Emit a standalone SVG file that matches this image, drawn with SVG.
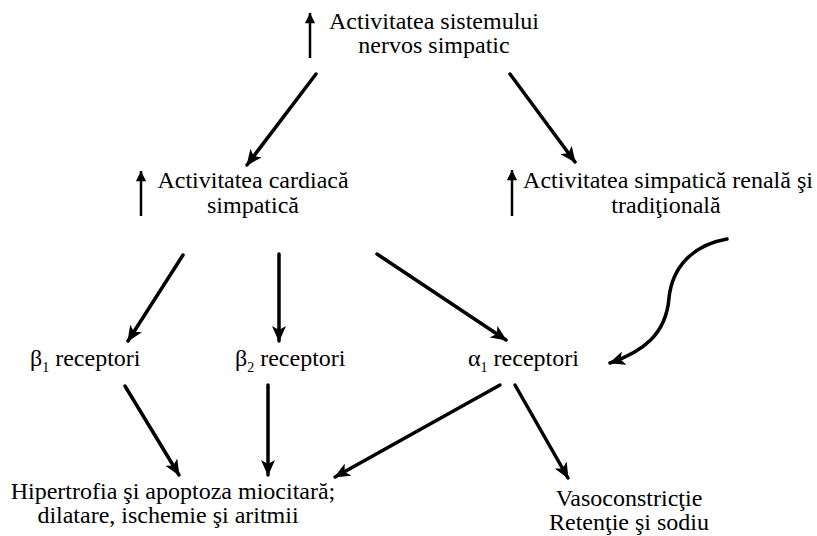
<svg xmlns="http://www.w3.org/2000/svg" width="817" height="536" viewBox="0 0 817 536">
  <defs>
    <marker id="head" viewBox="0 0 16 14" refX="15" refY="7" markerWidth="16" markerHeight="14" markerUnits="userSpaceOnUse" orient="auto">
      <path d="M0,0 L16,7 L0,14 L4,7 z" fill="#000"/>
    </marker>
    <marker id="up" viewBox="0 0 12 14" refX="12" refY="6" markerWidth="14" markerHeight="12" markerUnits="userSpaceOnUse" orient="auto">
      <path d="M0,0 L12,6 L0,12 z" fill="#000"/>
    </marker>
  </defs>
  <style>
    text { font-family: "Liberation Serif", "Times New Roman", serif; font-size: 24px; fill: #000; }
    .mid { text-anchor: middle; }
    .sub { font-size: 14px; }
    .conn { fill: none; stroke: #000; stroke-width: 3.5; stroke-linecap: round; marker-end: url(#head); }
    .inc { fill: none; stroke: #000; stroke-width: 2.5; marker-end: url(#up); }
  </style>
  <rect width="817" height="536" fill="#fff"/>

  <g id="sistem-nervos">
    <line class="inc" x1="310" y1="58" x2="310" y2="13"/>
    <text class="mid" x="434" y="29">Activitatea sistemului</text>
    <text class="mid" x="434" y="53">nervos simpatic</text>
  </g>

  <g id="cardiaca">
    <line class="inc" x1="141" y1="216" x2="141" y2="171"/>
    <text class="mid" x="253" y="188">Activitatea cardiacă</text>
    <text class="mid" x="253" y="213">simpatică</text>
  </g>

  <g id="renala">
    <line class="inc" x1="512" y1="216" x2="512" y2="170"/>
    <text class="mid" x="668" y="188">Activitatea simpatică renală şi</text>
    <text class="mid" x="666" y="213">tradiţională</text>
  </g>

  <g id="beta1">
    <text x="30" y="366">β<tspan class="sub" dy="6">1</tspan><tspan dy="-6"> receptori</tspan></text>
  </g>

  <g id="beta2">
    <text x="235" y="366">β<tspan class="sub" dy="6">2</tspan><tspan dy="-6"> receptori</tspan></text>
  </g>

  <g id="alfa1">
    <text x="468" y="366">α<tspan class="sub" dy="6">1</tspan><tspan dy="-6"> receptori</tspan></text>
  </g>

  <g id="efecte-cardiace">
    <text class="mid" x="173" y="499">Hipertrofia şi apoptoza miocitară;</text>
    <text class="mid" x="168" y="523">dilatare, ischemie şi aritmii</text>
  </g>

  <g id="efecte-vasculare">
    <text class="mid" x="629" y="506">Vasoconstricţie</text>
    <text class="mid" x="629" y="530">Retenţie şi sodiu</text>
  </g>

  <g id="connectors">
    <line class="conn" x1="316" y1="74" x2="247" y2="165"/>
    <line class="conn" x1="510" y1="74" x2="575" y2="162"/>
    <line class="conn" x1="183" y1="255" x2="128" y2="341"/>
    <line class="conn" x1="279" y1="254" x2="279" y2="341"/>
    <line class="conn" x1="377" y1="254" x2="506" y2="340"/>
    <path class="conn" d="M727,239 C692,245 672,268 669,298 C666,335 642,352 610,363"/>
    <line class="conn" x1="125" y1="386" x2="179" y2="475"/>
    <line class="conn" x1="268" y1="385" x2="268" y2="475"/>
    <line class="conn" x1="500" y1="385" x2="335" y2="477"/>
    <line class="conn" x1="515" y1="385" x2="568" y2="478"/>
  </g>
</svg>
